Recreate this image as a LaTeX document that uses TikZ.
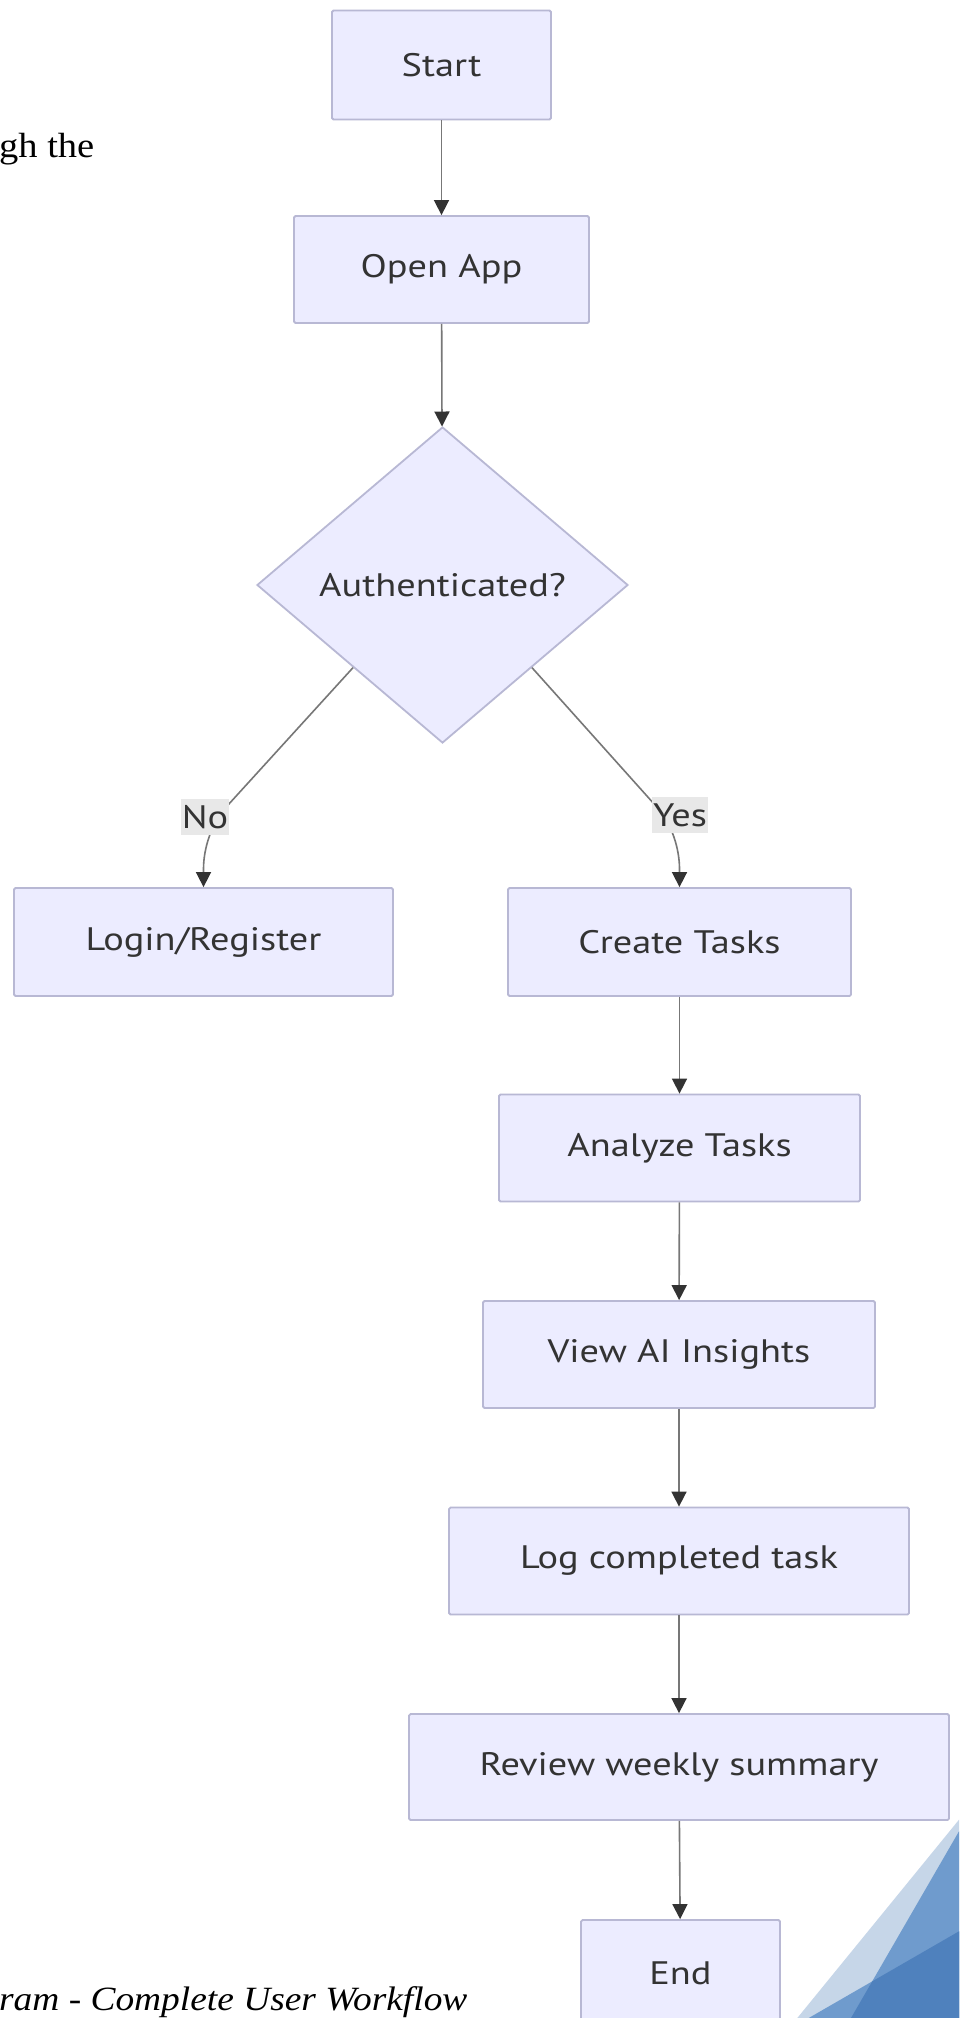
\documentclass[tikz,border=0pt]{standalone}
\usepackage{fontspec}
\usetikzlibrary{shapes.geometric,arrows.meta,calc}
\newfontfamily\flowfont{PT Sans}[FakeStretch=1.18]
\newfontfamily\docfont{Liberation Serif}[FakeStretch=1.1]
\definecolor{boxfill}{HTML}{ECECFF}
\definecolor{boxline}{HTML}{B8B8D4}
\definecolor{txt}{HTML}{333333}
\definecolor{edgecol}{HTML}{777777}
\definecolor{tipcol}{HTML}{333333}
\definecolor{lblfill}{HTML}{E8E8E8}
\definecolor{decolight}{HTML}{C6D6E8}
\definecolor{decomid}{HTML}{6F9BCD}
\definecolor{decodark}{HTML}{4F81BD}
\tikzset{
  flowbox/.style={draw=boxline, fill=boxfill, line width=1.8pt, text=txt,
    font=\flowfont\fontsize{32.5}{38}\selectfont, inner sep=0pt, rounded corners=1.5pt},
  decision/.style={diamond, draw=boxline, fill=boxfill, line width=1.8pt, text=txt,
    font=\flowfont\fontsize{32.5}{38}\selectfont, inner sep=0pt, aspect=1.174},
  flow/.style={draw=edgecol, line width=1.6pt, -{Triangle[length=15pt,width=15pt,color=tipcol]}},
  edgelbl/.style={fill=lblfill, text=txt, font=\flowfont\fontsize{32.5}{38}\selectfont,
    inner xsep=1pt, inner ysep=6pt},
  doctext/.style={text=black, font=\docfont\fontsize{35}{42}\selectfont, inner sep=0pt},
  captext/.style={text=black, font=\docfont\itshape\fontsize{34}{40}\selectfont, inner sep=0pt}
}
\begin{document}
\begin{tikzpicture}[x=1pt,y=-1pt]
\useasboundingbox (0,0) rectangle (959,2018);
\clip (0,0) rectangle (959,2018);
\fill[white] (0,0) rectangle (959,2018);

% decoration bottom right
\fill[decolight] (797.3,2018) -- (959,1819.7) -- (959,2018) -- cycle;
\fill[decomid] (851,2018) -- (959,1831.3) -- (959,2018) -- cycle;
\fill[decomid] (808.7,2018) -- (959,1931.3) -- (959,2018) -- cycle;
\begin{scope}
  \clip (851,2018) -- (959,1831.3) -- (959,2018) -- cycle;
  \fill[decodark] (808.7,2018) -- (959,1931.3) -- (959,2018) -- cycle;
\end{scope}

% document text
\node[doctext, anchor=base west] (bodytext) at (-1,157) {gh the};
\node[captext, anchor=base west] (caption) at (-1,2010) {ram - Complete User Workflow};

% nodes
\node[flowbox, minimum width=219pt, minimum height=109pt] (start) at (441.5,65) {Start};
\node[flowbox, minimum width=295pt, minimum height=107pt] (open) at (441.5,269.5) {Open App};
\node[decision, minimum width=371pt, minimum height=316pt] (auth) at (442.5,585) {Authenticated?};
\node[flowbox, minimum width=379pt, minimum height=108pt] (login) at (203.5,942) {Login/Register};
\node[flowbox, minimum width=343pt, minimum height=108pt] (create) at (679.5,942) {Create Tasks};
\node[flowbox, minimum width=361pt, minimum height=107pt] (analyze) at (679.5,1148) {Analyze Tasks};
\node[flowbox, minimum width=392pt, minimum height=107pt] (view) at (679,1354.5) {View AI Insights};
\node[flowbox, minimum width=460pt, minimum height=107pt] (logtask) at (679,1561) {Log completed task};
\node[flowbox, minimum width=540pt, minimum height=106pt] (review) at (679,1767) {Review weekly summary};
\node[flowbox, minimum width=199pt, minimum height=107pt] (finish) at (680.5,1973.5) {End};

% connectors
\draw[flow] (start) -- (open);
\draw[flow] (open) -- (auth);
\coordinate (dl) at ($(auth.west)!0.52!(auth.south)$);
\coordinate (dr) at ($(auth.east)!0.52!(auth.south)$);
\draw[flow] (dl) -- ($(login.north)+(23.5,-81)$) .. controls ($(login.north)+(7.3,-63.3)$) and ($(login.north)+(0,-38)$) .. ($(login.north)+(0,-18)$) -- (login.north);
\draw[flow] (dr) -- ($(create.north)+(-23.5,-81)$) .. controls ($(create.north)+(-7.3,-63.3)$) and ($(create.north)+(0,-38)$) .. ($(create.north)+(0,-18)$) -- (create.north);
\draw[flow] (create) -- (analyze);
\draw[flow] (analyze) -- (view);
\draw[flow] (view) -- (logtask);
\draw[flow] (logtask) -- (review);
\draw[flow] (review) -- (finish);

% edge labels
\node[edgelbl] (nolbl) at (205,817) {No};
\node[edgelbl] (yeslbl) at (680,815) {Yes};
\end{tikzpicture}
\end{document}
